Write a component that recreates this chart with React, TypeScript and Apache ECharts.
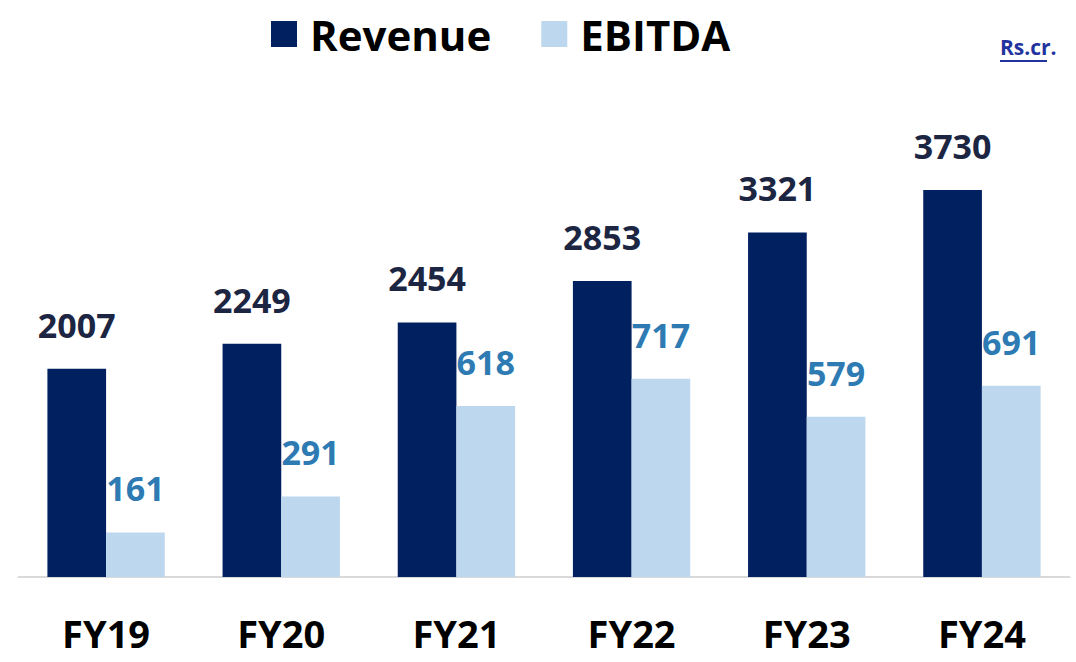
import React, { useEffect, useRef } from "react";
import * as echarts from "echarts";

const categories = ["FY19", "FY20", "FY21", "FY22", "FY23", "FY24"];
const revenue = [2007, 2249, 2454, 2853, 3321, 3730];
const ebitda = [161, 291, 618, 717, 579, 691];
const seriesNames = ["Revenue", "EBITDA"];
const unitLabel = "Rs.cr.";

const FONT = "'Open Sans', sans-serif";

export default function App() {
  const ref = useRef<HTMLDivElement>(null);
  useEffect(() => {
    document.body.style.margin = "0";
    const chart = echarts.init(ref.current!, null, { renderer: "svg" });
    chart.setOption({
      animation: false,
      backgroundColor: "#ffffff",
      legend: {
        data: seriesNames,
        left: 266,
        top: 8,
        icon: "rect",
        itemWidth: 26,
        itemHeight: 26,
        itemGap: 50,
        textStyle: {
          fontFamily: FONT,
          fontSize: 42,
          fontWeight: "bold",
          color: "#000000",
          padding: [0, 0, 0, 8],
        },
      },
      grid: { left: 18.5, right: 6.5, top: 162, bottom: 85 },
      xAxis: {
        type: "category",
        data: categories,
        axisLine: { show: true, lineStyle: { color: "#d9d9d9", width: 2 } },
        axisTick: { show: false },
        axisLabel: {
          fontFamily: FONT,
          fontSize: 38,
          fontWeight: "bold",
          color: "#000000",
          margin: 37,
        },
      },
      yAxis: [
        { type: "value", min: 0, max: 4000, show: false, splitLine: { show: false } },
        { type: "value", min: 0, max: 1500, show: false, splitLine: { show: false } },
      ],
      series: [
        {
          name: seriesNames[0],
          type: "bar",
          data: revenue,
          yAxisIndex: 0,
          barGap: "0%",
          barCategoryGap: "33%",
          itemStyle: { color: "#002060" },
          label: {
            show: true,
            position: "top",
            distance: 27,
            fontFamily: FONT,
            fontSize: 34,
            fontWeight: "bold",
            color: "#1c2541",
          },
        },
        {
          name: seriesNames[1],
          type: "bar",
          data: ebitda,
          yAxisIndex: 1,
          barGap: "0%",
          barCategoryGap: "33%",
          itemStyle: { color: "#bdd7ee" },
          label: {
            show: true,
            position: "top",
            distance: 27,
            fontFamily: FONT,
            fontSize: 34,
            fontWeight: "bold",
            color: "#2e7bb4",
          },
        },
      ],
      graphic: [
        {
          type: "text",
          left: 1000,
          top: 36,
          style: {
            text: unitLabel,
            fontFamily: FONT,
            fontSize: 21,
            fontWeight: "bold",
            fill: "#2233a0",
          },
        },
        {
          type: "line",
          shape: { x1: 1000, y1: 61, x2: 1047, y2: 61 },
          style: { stroke: "#2233a0", lineWidth: 2 },
        },
      ],
    });
    return () => chart.dispose();
  }, []);
  return <div ref={ref} style={{ width: 1076, height: 662 }} />;
}
